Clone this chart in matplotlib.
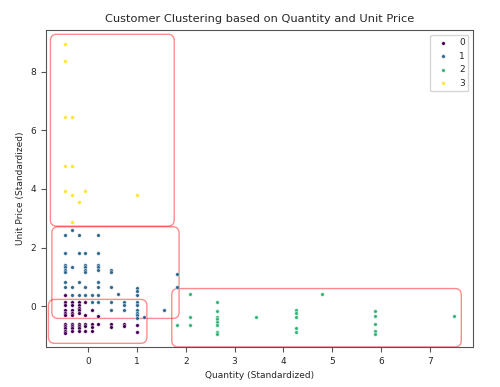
import numpy as np
import matplotlib
matplotlib.use('Agg')
import matplotlib.pyplot as plt
from matplotlib.patches import FancyBboxPatch

# cluster 0 (purple)
c0_x = [-0.48]*11 + [-0.34]*9 + [-0.20]*9 + [-0.07]*5 + [0.07]*4 + [0.20]*2 + [0.46]*2 + [0.74]*2 + [1.00]*2
c0_y = [0.38, 0.13, 0.03, -0.14, -0.22, -0.31, -0.60, -0.68, -0.76, -0.84, -0.92,
        0.13, 0.03, -0.14, -0.22, -0.31, -0.60, -0.68, -0.76, -0.84,
        0.13, 0.03, -0.06, -0.14, -0.22, -0.60, -0.68, -0.76, -0.84,
        0.13, -0.31, -0.60, -0.68, -0.84,
        -0.14, -0.60, -0.70, -0.84,
        -0.33, -0.60,
        -0.61, -0.71,
        -0.61, -0.69,
        -0.63, -0.88]

# cluster 1 (blue)
c1_x = [-0.48]*8 + [-0.34]*4 + [-0.20]*4 + [-0.07]*7 + [0.07]*2 + [0.20]*9 + [0.46]*5 \
    + [0.60] + [0.74]*3 + [1.00]*9 + [1.15] + [1.55] + [1.82]*2
c1_y = [2.42, 1.83, 1.40, 1.32, 1.24, 1.16, 0.81, 0.64,
        2.60, 1.34, 0.64, 0.38,
        2.42, 1.83, 0.81, 0.38,
        1.83, 1.40, 1.32, 1.24, 1.16, 0.64, 0.38,
        0.38, 0.13,
        2.42, 1.83, 1.40, 1.32, 1.24, 0.81, 0.64, 0.38, 0.13,
        1.25, 1.16, 0.64, 0.13, -0.14,
        0.40,
        0.13, 0.03, -0.14,
        0.63, 0.53, 0.38, 0.13, 0.03, -0.14, -0.22, -0.31, -0.40,
        -0.36,
        -0.14,
        1.09, 0.64]

# cluster 2 (green)
c2_x = [1.82] + [2.08]*3 + [2.63]*8 + [3.44] + [4.25]*5 + [4.80] + [5.88]*5 + [7.49]
c2_y = [-0.65,
        0.40, -0.38, -0.63,
        0.13, -0.15, -0.38, -0.45, -0.53, -0.63, -0.88, -0.96,
        -0.38,
        -0.14, -0.25, -0.38, -0.73, -0.89,
        0.40,
        -0.18, -0.33, -0.61, -0.86, -0.94,
        -0.33]

# cluster 3 (yellow)
c3_x = [-0.48, -0.48, -0.48, -0.34, -0.48, -0.34, -0.48, -0.34, -0.07, -0.20, 1.00, -0.34]
c3_y = [8.94, 8.36, 6.45, 6.45, 4.79, 4.79, 3.93, 3.78, 3.93, 3.57, 3.78, 2.87]

clusters = ['0', '1', '2', '3']
xs = [c0_x, c1_x, c2_x, c3_x]
ys = [c0_y, c1_y, c2_y, c3_y]

# highlight boxes: (x0, x1, y0, y1)
boxes = [(-0.78, 1.76, 2.73, 9.28),
         (-0.75, 1.86, -0.42, 2.71),
         (-0.82, 1.20, -1.27, 0.23),
         (1.71, 7.65, -1.39, 0.60)]

plt.rcParams['font.size'] = 6.5
plt.rcParams['text.color'] = '#262626'
plt.rcParams['axes.labelcolor'] = '#262626'
plt.rcParams['xtick.labelcolor'] = '#262626'
plt.rcParams['ytick.labelcolor'] = '#262626'
fig = plt.figure(figsize=(5, 3.87), dpi=100)
ax = fig.add_axes([0.092, 0.103, 0.854, 0.819])

cmap = plt.get_cmap('viridis')
for i, lab in enumerate(clusters):
    ax.scatter(xs[i], ys[i], s=7, color=cmap(i / 3), edgecolors='white',
               linewidths=0.3, label=lab, zorder=3)

for x0, x1, y0, y1 in boxes:
    ax.add_patch(FancyBboxPatch((x0, y0), x1 - x0, y1 - y0,
                                boxstyle='round,pad=0,rounding_size=0.13',
                                mutation_aspect=1.67, fill=False,
                                edgecolor='red', alpha=0.45, lw=1, zorder=2))

for sp in ax.spines.values():
    sp.set_color('#555555')
ax.tick_params(colors='#555555', labelcolor='#262626')

ax.set_xlim(-0.87, 7.89)
ax.set_ylim(-1.4, 9.42)
ax.set_xticks(range(0, 8))
ax.set_yticks([0, 2, 4, 6, 8])
ax.set_title('Customer Clustering based on Quantity and Unit Price', fontsize=8.2)
ax.set_xlabel('Quantity (Standardized)')
ax.set_ylabel('Unit Price (Standardized)')
ax.legend(loc='upper right', fontsize=6.5, markerscale=1)

fig.savefig('out.png', dpi=100)
